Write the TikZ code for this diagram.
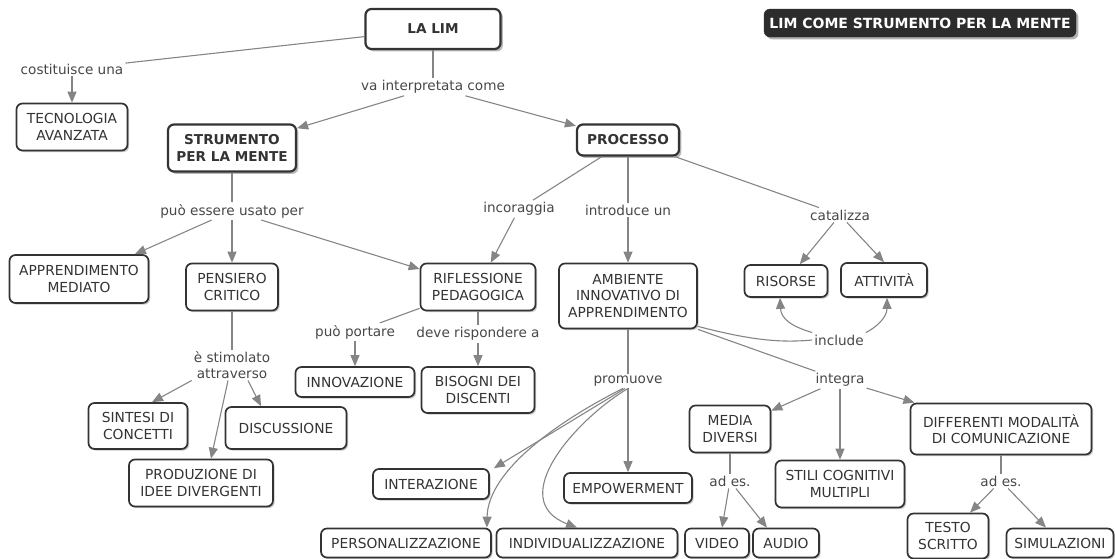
\documentclass[tikz,border=0pt]{standalone}
\usepackage{fontspec}
\setmainfont{DejaVu Sans}
\usepackage{xcolor}
\usepackage{tikz}
\usetikzlibrary{arrows.meta, shadows}
\definecolor{boxline}{HTML}{333333}
\definecolor{txtgray}{HTML}{333333}
\definecolor{linkgray}{HTML}{858585}
\definecolor{titlefill}{HTML}{2C2C2C}

\begin{document}
\begin{tikzpicture}[x=1pt, y=-1pt,
    conceptblock/.style={rectangle, draw=boxline, line width=1.7pt, fill=white, rounded corners=6pt, text=txtgray, align=center, inner sep=3pt, font=\fontsize{13.8}{16.5}\selectfont, drop shadow={shadow xshift=1.6pt, shadow yshift=-1.6pt, fill=black, opacity=0.22}},
    mainblock/.style={rectangle, draw=boxline, line width=2.2pt, fill=white, rounded corners=6pt, text=txtgray, align=center, inner sep=3pt, font=\fontsize{13.6}{16.5}\selectfont\bfseries, drop shadow={shadow xshift=2.4pt, shadow yshift=-2.4pt, fill=black, opacity=0.28}},
    titleblock/.style={rectangle, draw=titlefill, fill=titlefill, rounded corners=6pt, text=white, inner sep=3pt, font=\fontsize{14}{16}\selectfont\bfseries, drop shadow={shadow xshift=2.4pt, shadow yshift=-2.4pt, fill=black, opacity=0.3}},
    linkword/.style={rectangle, text=txtgray!90, align=center, inner sep=2pt, font=\fontsize{13.6}{15.5}\selectfont},
    plainline/.style={draw=linkgray, line width=1.1pt},
    arrow/.style={draw=linkgray, line width=1.1pt, -{Triangle[length=11pt, width=9pt]}}]

    \useasboundingbox (0,0) rectangle (1115,558);

    \node [mainblock, minimum width=135, minimum height=40] (lalim) at (433,29) {LA LIM};
    \node [titleblock, minimum width=312, minimum height=28] (titolo) at (920,23) {LIM COME STRUMENTO PER LA MENTE};

    \node [linkword] (costit) at (72,69) {costituisce una};
    \node [conceptblock, minimum width=111, minimum height=47] (tecno) at (72,127) {TECNOLOGIA\\AVANZATA};
    \node [linkword] (vainterp) at (433,87) {va interpretata come};
    \node [mainblock, minimum width=128, minimum height=47] (strum) at (232,148) {STRUMENTO\\PER LA MENTE};
    \node [mainblock, minimum width=102, minimum height=31] (processo) at (628,140) {PROCESSO};

    \node [linkword] (puoess) at (232,211) {può essere usato per};
    \node [linkword] (incor) at (519,209) {incoraggia};
    \node [linkword] (introd) at (628,210) {introduce un};
    \node [linkword] (catal) at (840,215) {catalizza};

    \node [conceptblock, minimum width=139, minimum height=48] (apprmed) at (79,279) {APPRENDIMENTO\\MEDIATO};
    \node [conceptblock, minimum width=92, minimum height=47] (pensiero) at (232,287) {PENSIERO\\CRITICO};
    \node [conceptblock, minimum width=115, minimum height=47] (rifl) at (478,287) {RIFLESSIONE\\PEDAGOGICA};
    \node [conceptblock, minimum width=138, minimum height=65] (ambiente) at (628,296) {AMBIENTE\\INNOVATIVO DI\\APPRENDIMENTO};
    \node [conceptblock, minimum width=83, minimum height=32] (risorse) at (786,281) {RISORSE};
    \node [conceptblock, minimum width=86, minimum height=34] (attivita) at (884,280) {ATTIVITÀ};

    \node [linkword] (puoport) at (355,332) {può portare};
    \node [linkword] (deveris) at (478,334) {deve rispondere a};
    \node [linkword] (include) at (839,340) {include};
    \node [linkword] (estim) at (232,365) {è stimolato\\attraverso};
    \node [linkword] (promuove) at (628,381) {promuove};
    \node [linkword] (integra) at (840,380) {integra};

    \node [conceptblock, minimum width=119, minimum height=30] (innov) at (355,382) {INNOVAZIONE};
    \node [conceptblock, minimum width=113, minimum height=46] (bisogni) at (478,390) {BISOGNI DEI\\DISCENTI};
    \node [conceptblock, minimum width=99, minimum height=46] (sintesi) at (138,426) {SINTESI DI\\CONCETTI};
    \node [conceptblock, minimum width=121, minimum height=42] (discuss) at (286,428) {DISCUSSIONE};
    \node [conceptblock, minimum width=144, minimum height=47] (produz) at (201,483) {PRODUZIONE DI\\IDEE DIVERGENTI};
    \node [conceptblock, minimum width=116, minimum height=30] (interaz) at (431,484) {INTERAZIONE};
    \node [conceptblock, minimum width=128, minimum height=30] (empow) at (628,488) {EMPOWERMENT};
    \node [conceptblock, minimum width=81, minimum height=47] (media) at (730,429) {MEDIA\\DIVERSI};
    \node [conceptblock, minimum width=129, minimum height=47] (stili) at (840,484) {STILI COGNITIVI\\MULTIPLI};
    \node [conceptblock, minimum width=181, minimum height=51] (diff) at (1001,429) {DIFFERENTI MODALITÀ\\DI COMUNICAZIONE};

    \node [linkword] (adesM) at (730,481) {ad es.};
    \node [linkword] (adesD) at (1001,481) {ad es.};

    \node [conceptblock, minimum width=170, minimum height=29] (personal) at (406,543) {PERSONALIZZAZIONE};
    \node [conceptblock, minimum width=181, minimum height=29] (individ) at (587,543) {INDIVIDUALIZZAZIONE};
    \node [conceptblock, minimum width=64, minimum height=29] (video) at (717,543) {VIDEO};
    \node [conceptblock, minimum width=66, minimum height=29] (audio) at (786,543) {AUDIO};
    \node [conceptblock, minimum width=81, minimum height=45] (testo) at (948,536) {TESTO\\SCRITTO};
    \node [conceptblock, minimum width=107, minimum height=29] (simul) at (1060,543) {SIMULAZIONI};

    \draw [plainline] (lalim) -- (costit);
    \draw [arrow] (costit) -- (tecno);
    \draw [plainline] (lalim) -- (vainterp);
    \draw [arrow] (vainterp) -- (strum);
    \draw [arrow] (vainterp) -- (processo);

    \draw [plainline] (strum) -- (puoess);
    \draw [arrow] (puoess) -- (apprmed);
    \draw [arrow] (puoess) -- (pensiero);
    \draw [arrow] (puoess) -- (rifl);

    \draw [plainline] (processo) -- (incor);
    \draw [arrow] (incor) -- (rifl);
    \draw [plainline] (processo) -- (introd);
    \draw [arrow] (introd) -- (ambiente);
    \draw [plainline] (processo) -- (catal);
    \draw [arrow] (catal) -- (risorse);
    \draw [arrow] (catal) -- (attivita.north);

    \draw [plainline] (pensiero) -- (estim);
    \draw [arrow] (estim.south west) -- ([xshift=14pt]sintesi.north);
    \draw [arrow] ([xshift=-4pt]estim.south) -- ([xshift=10pt]produz.north);
    \draw [arrow] ([xshift=16pt]estim.south) -- ([xshift=-25pt]discuss.north);

    \draw [plainline] (rifl) -- (puoport);
    \draw [arrow] (puoport) -- (innov);
    \draw [plainline] (rifl) -- (deveris);
    \draw [arrow] (deveris) -- (bisogni);

    \draw [plainline] ([yshift=3pt]ambiente.south east) .. controls (750,340) and (780,343) .. (include.west);
    \draw [arrow] (include.north west) .. controls (790,326) and (781,318) .. ([xshift=-6pt]risorse.south);
    \draw [arrow] (include.north east) .. controls (875,328) and (887,318) .. ([xshift=3pt]attivita.south);

    \draw [plainline] (ambiente) -- (promuove);
    \draw [arrow] (promuove) -- (empow);
    \draw [arrow] ([xshift=-3pt]promuove.south) -- ([xshift=4pt]interaz.north east);
    \draw [arrow] ([xshift=-5pt]promuove.south) .. controls (560,420) and (488,470) .. ([xshift=-5pt]personal.north east);
    \draw [arrow] (promuove.south) .. controls (575,420) and (505,500) .. ([xshift=-10pt]individ.north);

    \draw [plainline] (ambiente.south east) -- (integra);
    \draw [arrow] (integra) -- (media);
    \draw [arrow] (integra) -- (stili);
    \draw [arrow] (integra) -- (diff);

    \draw [plainline] (media) -- (adesM);
    \draw [arrow] (adesM) -- ([xshift=5pt]video.north);
    \draw [arrow] (adesM) -- ([xshift=-19pt]audio.north);
    \draw [plainline] (diff) -- (adesD);
    \draw [arrow] (adesD) -- ([xshift=22pt]testo.north);
    \draw [arrow] (adesD) -- ([xshift=-14pt]simul.north);

\end{tikzpicture}
\end{document}
